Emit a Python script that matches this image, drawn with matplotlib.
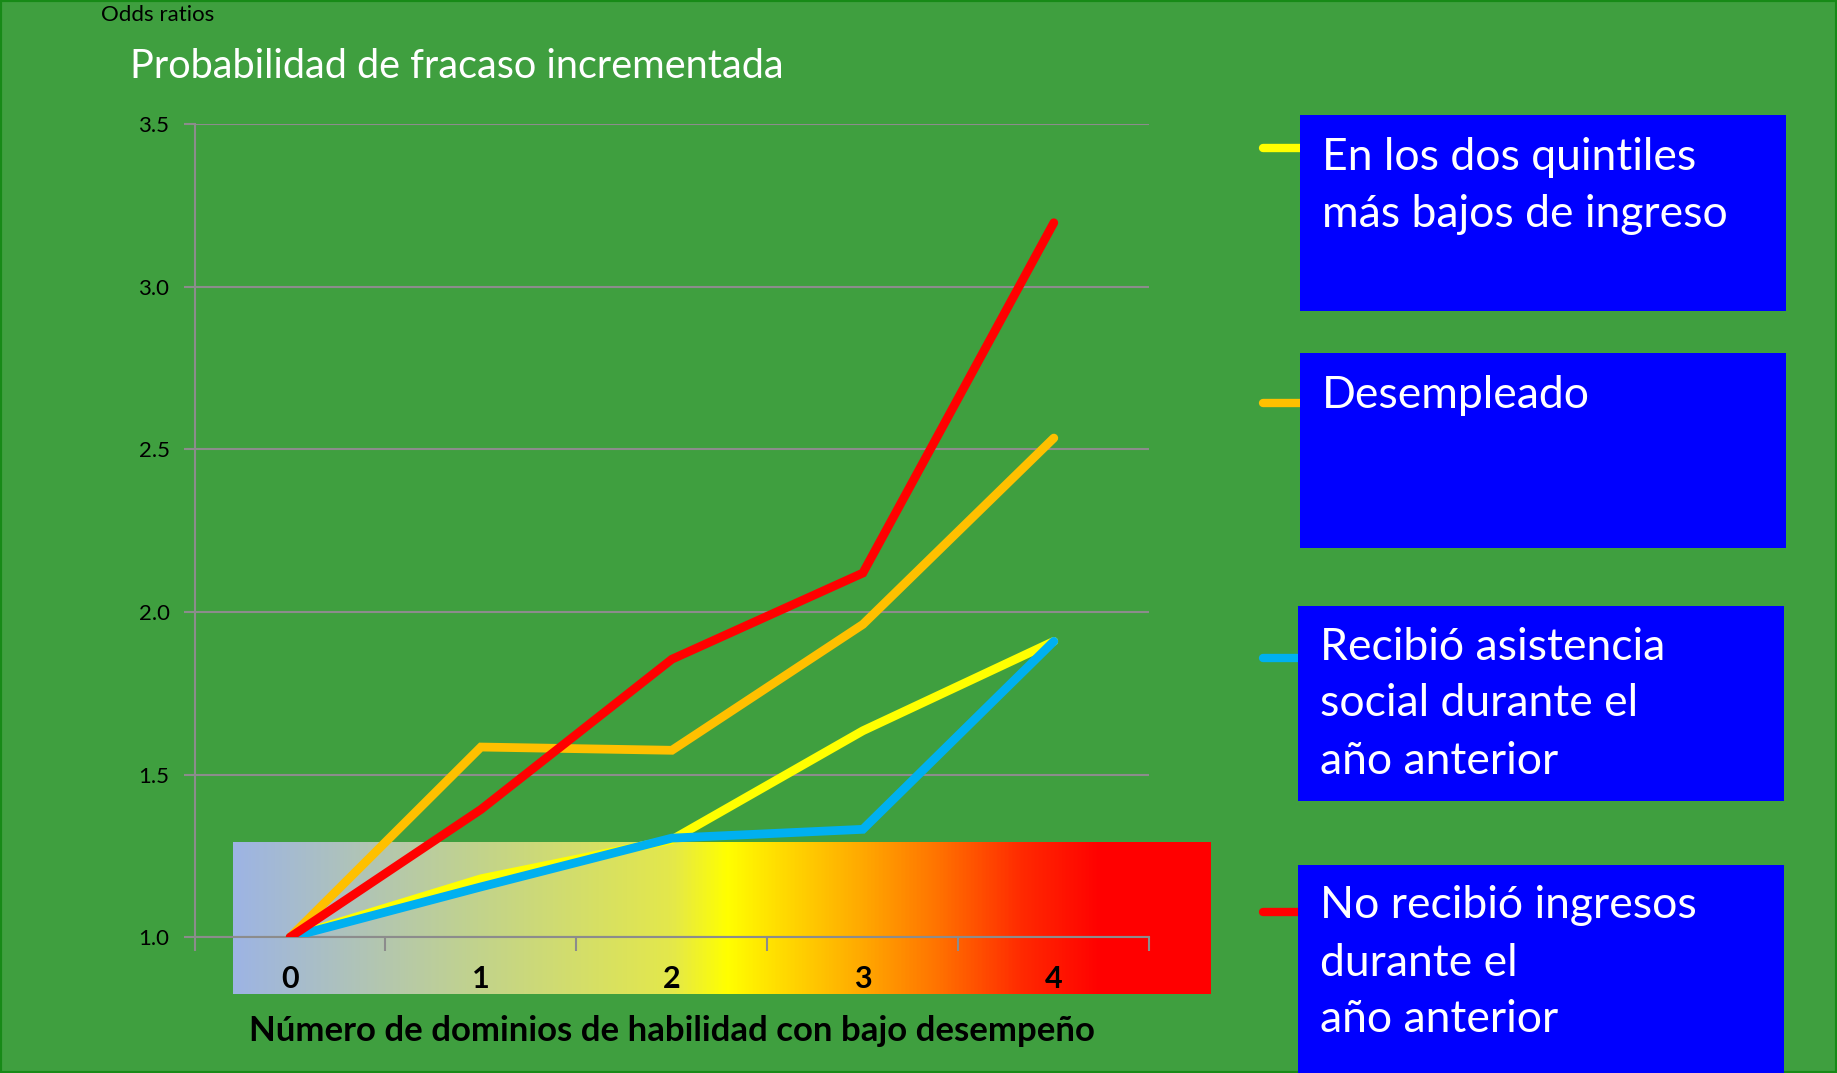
import numpy as np
import matplotlib
matplotlib.use('Agg')
import matplotlib.pyplot as plt
from matplotlib.colors import LinearSegmentedColormap
from matplotlib.patches import Rectangle

plt.rcParams['font.family'] = ['Lato', 'DejaVu Sans']

# data
categories = ['0', '1', '2', '3', '4']
quintiles = [1.0, 1.18, 1.30, 1.635, 1.91]
desempleado = [1.0, 1.585, 1.575, 1.962, 2.535]
asistencia = [1.0, 1.155, 1.305, 1.332, 1.91]
sin_ingresos = [1.0, 1.393, 1.855, 2.12, 3.197]

labels = [
    'En los dos quintiles\nmás bajos de ingreso',
    'Desempleado',
    'Recibió asistencia\nsocial durante el\naño anterior',
    'No recibió ingresos\ndurante el\naño anterior',
]
series = [quintiles, desempleado, asistencia, sin_ingresos]
colors = ['#FFFF00', '#FFC000', '#00B0F0', '#FF0000']

# gradient band under the x axis
grad_stops = [0.0, 0.25, 0.45, 0.505, 0.55, 0.645, 0.72, 0.81, 0.89, 1.0]
grad_colors = ['#9DB4E4', '#C2D38C', '#E4E84A', '#FFFF00', '#FFE200',
               '#FFA800', '#FF7400', '#FF2800', '#FF0000', '#FF0000']

W, H = 1837, 1073
green = '#3F9F3F'
fig = plt.figure(figsize=(W / 100, H / 100), dpi=100, facecolor=green)
fig.patches.append(Rectangle((0, 0), 1, 1, transform=fig.transFigure,
                             fill=False, edgecolor='#178A17', linewidth=3))

ax = fig.add_axes([194.5 / W, 1 - 937.3 / H, (1149.3 - 194.5) / W, (937.3 - 124.2) / H])
ax.set_facecolor('none')

x = np.arange(len(categories))

cmap = LinearSegmentedColormap.from_list('band', list(zip(grad_stops, grad_colors)))
ax.imshow(np.linspace(0, 1, 512).reshape(1, -1), cmap=cmap, aspect='auto',
          extent=(-0.30, 4.82, 0.827, 1.292), clip_on=False, zorder=0.5,
          interpolation='bilinear')

for vals, c in zip(series, colors):
    ax.plot(x, vals, color=c, linewidth=6.3, solid_joinstyle='miter',
            solid_capstyle='round', zorder=3)

ax.set_xlim(-0.5, 4.5)
ax.set_ylim(1.0, 3.5)
ax.set_yticks([1.0, 1.5, 2.0, 2.5, 3.0, 3.5])
ax.set_yticklabels(['1.0', '1.5', '2.0', '2.5', '3.0', '3.5'])
ax.yaxis.grid(True, color='#8C8C8C', linewidth=1.5)
ax.set_axisbelow(True)
for s in ['top', 'right']:
    ax.spines[s].set_visible(False)
for s in ['left', 'bottom']:
    ax.spines[s].set_color('#8C8C8C')
    ax.spines[s].set_linewidth(1.5)
ax.tick_params(axis='y', colors='#8C8C8C', length=8, width=1.5, labelsize=16,
               labelcolor='black', pad=10)
ax.set_xticks(x)
ax.set_xticklabels(categories, fontsize=22, fontweight='bold')
ax.set_xticks(np.arange(-0.5, 5.0, 1.0), minor=True)
ax.tick_params(axis='x', which='major', length=0, pad=20)
ax.tick_params(axis='x', which='minor', length=10, width=1.5, colors='#8C8C8C')
ax.set_xlabel('Número de dominios de habilidad con bajo desempeño',
              fontsize=25, fontweight='bold', labelpad=16)

fig.text(101 / W, 1 - 15 / H, 'Odds ratios', fontsize=16, va='center', ha='left')
fig.text(130 / W, 1 - 67 / H, 'Probabilidad de fracaso incrementada',
         fontsize=28.5, color='white', va='center', ha='left')

# legend boxes
boxes = [(1300, 114.8, 310.5), (1300, 352.6, 548.3), (1298, 605.7, 801.4), (1298, 864.6, 1080)]
first_line = [157, 396, 647, 906]
line_y = [147.7, 403, 658, 912]
for lab, c, (bx, top, bot), ty, ly in zip(labels, colors, boxes, first_line, line_y):
    fig.patches.append(Rectangle((bx / W, 1 - bot / H), 485.5 / W, (bot - top) / H,
                                 transform=fig.transFigure, facecolor='#0000FF',
                                 edgecolor='none', zorder=2))
    fig.lines.append(plt.Line2D([1263 / W, bx / W], [1 - ly / H, 1 - ly / H],
                                transform=fig.transFigure, color=c, linewidth=6,
                                solid_capstyle='round', zorder=1))
    for i, line in enumerate(lab.split('\n')):
        fig.text((bx + 22) / W, 1 - (ty + i * 57) / H, line, fontsize=32,
                 color='white', va='center', ha='left', zorder=3)

fig.savefig('out.png', dpi=100, facecolor=green)
